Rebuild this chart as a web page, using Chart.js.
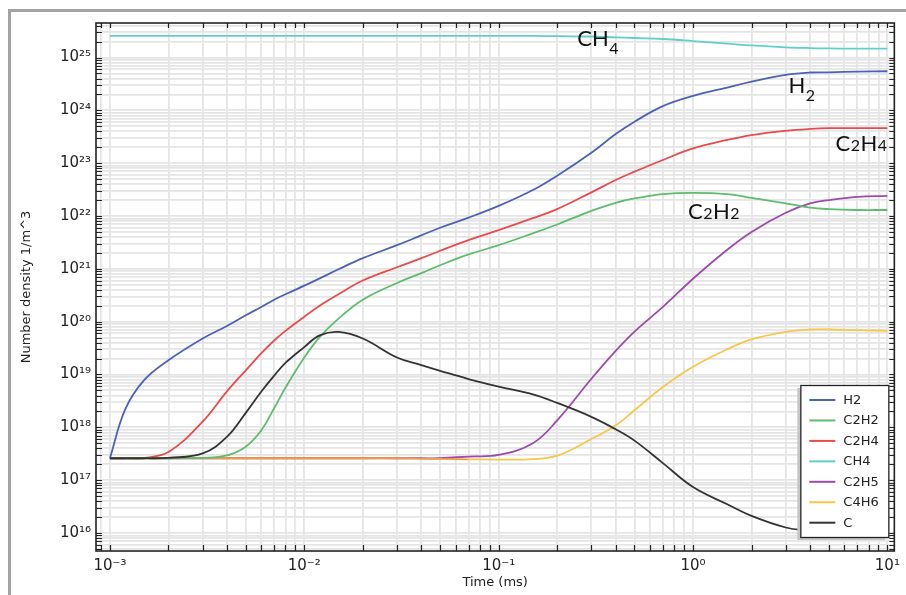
<!DOCTYPE html>
<html>
<head>
<meta charset="utf-8">
<script src="https://cdn.jsdelivr.net/npm/chart.js@4.4.0/dist/chart.umd.min.js"></script>
<style>
  html, body { margin: 0; padding: 0; background: #fff; }
  #wrap { position: relative; width: 906px; height: 595px; overflow: hidden; }
  #frame { position: absolute; left: 8px; top: 9px; width: 920px; height: 620px;
           border-left: 3px solid #a3a3a3; border-top: 3px solid #a3a3a3; pointer-events: none; }
</style>
</head>
<body>
<div id="wrap">
  <canvas id="densityChart" width="906" height="595"></canvas>
  <div id="frame"></div>
</div>
<script>
// Time (ms) at which the curves were read
const times = [0.001, 0.0012, 0.0015, 0.002, 0.003, 0.004, 0.005, 0.006, 0.007, 0.008,
  0.01, 0.012, 0.015, 0.02, 0.03, 0.04, 0.05, 0.07,
  0.1, 0.15, 0.2, 0.3, 0.4, 0.5, 0.7,
  1, 1.5, 2, 3, 4, 5, 7, 10];

// Number density 1/m^3 per species
const h2 = [2.6e17, 2.2e18, 7.8e18, 1.86e19, 4.8e19, 8.3e19, 1.32e20, 1.9e20, 2.6e20, 3.3e20,
  4.8e20, 6.6e20, 9.8e20, 1.59e21, 2.8e21, 4.3e21, 6.0e21, 9.3e21,
  1.55e22, 3.1e22, 5.8e22, 1.58e23, 3.55e23, 6.1e23, 1.2e24,
  1.87e24, 2.7e24, 3.5e24, 4.7e24, 5.2e24, 5.25e24, 5.4e24, 5.5e24];
const c2h2 = [2.6e17, 2.6e17, 2.6e17, 2.6e17, 2.65e17, 2.95e17, 4.3e17, 8.7e17, 2.3e18, 5.6e18,
  2.1e19, 5.1e19, 1.14e20, 2.6e20, 5.4e20, 8.3e20, 1.17e21, 1.87e21,
  2.8e21, 4.7e21, 6.9e21, 1.25e22, 1.78e22, 2.15e22, 2.6e22,
  2.75e22, 2.6e22, 2.2e22, 1.73e22, 1.44e22, 1.35e22, 1.3e22, 1.3e22];
const c2h4 = [2.6e17, 2.6e17, 2.65e17, 3.4e17, 1.28e18, 4.8e18, 1.2e19, 2.5e19, 4.4e19, 6.7e19,
  1.24e20, 2.0e20, 3.3e20, 6.0e20, 1.07e21, 1.59e21, 2.2e21, 3.5e21,
  5.4e21, 9.1e21, 1.35e22, 2.8e22, 4.8e22, 6.9e22, 1.15e23,
  1.9e23, 2.75e23, 3.4e23, 4.1e23, 4.45e23, 4.6e23, 4.6e23, 4.6e23];
const ch4 = [2.56e25, 2.56e25, 2.56e25, 2.56e25, 2.56e25, 2.56e25, 2.56e25, 2.56e25, 2.56e25, 2.56e25,
  2.56e25, 2.56e25, 2.56e25, 2.56e25, 2.56e25, 2.56e25, 2.56e25, 2.56e25,
  2.56e25, 2.56e25, 2.53e25, 2.5e25, 2.41e25, 2.34e25, 2.24e25,
  2.05e25, 1.83e25, 1.69e25, 1.56e25, 1.51e25, 1.49e25, 1.47e25, 1.47e25];
const c2h5 = [2.6e17, 2.6e17, 2.6e17, 2.6e17, 2.6e17, 2.6e17, 2.6e17, 2.6e17, 2.6e17, 2.6e17,
  2.6e17, 2.6e17, 2.6e17, 2.6e17, 2.6e17, 2.6e17, 2.6e17, 2.8e17,
  3.0e17, 5.0e17, 1.35e18, 8.3e18, 2.8e19, 6.5e19, 1.9e20,
  6.5e20, 2.3e21, 5.0e21, 1.15e22, 1.73e22, 2.0e22, 2.3e22, 2.4e22];
const c4h6 = [2.6e17, 2.6e17, 2.6e17, 2.6e17, 2.6e17, 2.6e17, 2.6e17, 2.6e17, 2.6e17, 2.6e17,
  2.6e17, 2.6e17, 2.6e17, 2.6e17, 2.6e17, 2.55e17, 2.52e17, 2.48e17,
  2.45e17, 2.5e17, 2.9e17, 6.0e17, 1.08e18, 2.1e18, 5.8e18,
  1.4e19, 3.0e19, 4.6e19, 6.4e19, 7.1e19, 7.1e19, 6.9e19, 6.7e19];
const carbon = [2.6e17, 2.6e17, 2.6e17, 2.65e17, 3.2e17, 6.6e17, 1.88e18, 4.7e18, 9.5e18, 1.66e19,
  3.3e19, 5.5e19, 6.4e19, 4.8e19, 2.1e19, 1.5e19, 1.17e19, 8.2e18,
  5.9e18, 4.2e18, 2.9e18, 1.58e18, 9.2e17, 5.6e17, 2.1e17,
  7.4e16, 3.5e16, 2.1e16, 1.27e16, 1.1e16, 1.0e16, 9.5e15, 9.0e15];

const seriesNames = ['H2', 'C2H2', 'C2H4', 'CH4', 'C2H5', 'C4H6', 'C'];
const seriesValues = [h2, c2h2, c2h4, ch4, c2h5, c4h6, carbon];

// Tick labels (powers of ten)
const xDecades = [-3, -2, -1, 0, 1];
const xTickLabels = ['10⁻³', '10⁻²', '10⁻¹', '10⁰', '10¹'];
const yDecades = [16, 17, 18, 19, 20, 21, 22, 23, 24, 25];
const yTickLabels = ['10¹⁶', '10¹⁷', '10¹⁸', '10¹⁹', '10²⁰', '10²¹', '10²²', '10²³', '10²⁴', '10²⁵'];

// Styles
const seriesColors = ['#4d62b5', '#5cbd6c', '#e84b4b', '#5fcfc9', '#9c4aab', '#f8c64a', '#333333'];
const drawOrder = [3, 1, 2, 6, 5, 4, 0];
const xRange = [0.000848, 10.86];
const yRange = [4.56e15, 4.5e25];

Chart.defaults.font.family = "'DejaVu Sans', sans-serif";
Chart.defaults.color = '#222';

// ticks 1..9 x 10^n inside the range
function logTicks(min, max) {
  const out = [];
  for (let d = Math.floor(Math.log10(min)); d <= Math.floor(Math.log10(max)); d++) {
    for (let k = 1; k <= 9; k++) {
      const v = k * Math.pow(10, d);
      if (v >= min && v <= max) out.push({ value: v, major: k === 1 });
    }
  }
  return out;
}

function decadeLabel(value, decades, labels) {
  const d = Math.round(Math.log10(value));
  const i = decades.indexOf(d);
  if (i < 0 || Math.abs(value / Math.pow(10, d) - 1) > 1e-6) return '';
  return labels[i];
}

// inward ticks on all four sides + black box
const frameTicks = {
  id: 'frameTicks',
  afterDatasetsDraw(chart) {
    const { ctx, chartArea: a, scales: { x, y } } = chart;
    ctx.save();
    ctx.strokeStyle = '#222';
    ctx.lineWidth = 1.2;
    ctx.beginPath();
    x.ticks.forEach(t => {
      const px = Math.round(x.getPixelForValue(t.value)) + 0.5;
      ctx.moveTo(px, a.bottom); ctx.lineTo(px, a.bottom - 6);
      ctx.moveTo(px, a.top); ctx.lineTo(px, a.top + 5);
    });
    y.ticks.forEach(t => {
      const py = Math.round(y.getPixelForValue(t.value)) + 0.5;
      ctx.moveTo(a.left, py); ctx.lineTo(a.left + 6, py);
      ctx.moveTo(a.right, py); ctx.lineTo(a.right - 5, py);
    });
    ctx.stroke();
    ctx.lineWidth = 1.6;
    ctx.strokeRect(a.left, a.top, a.right - a.left, a.bottom - a.top);
    ctx.restore();
  }
};

// species names written next to the curves (anchored in data units)
const curveNotes = [
  { parts: [['CH', 0], ['4', 1]], t: 0.254, n: 1.65e25 },
  { parts: [['H', 0], ['2', 1]], t: 3.10, n: 2.13e24 },
  { parts: [['C', 0], ['2', 2], ['H', 0], ['4', 2]], t: 5.41, n: 1.73e23 },
  { parts: [['C', 0], ['2', 2], ['H', 0], ['2', 2]], t: 0.943, n: 8.9e21 }
];
const notesPlugin = {
  id: 'notes',
  afterDraw(chart) {
    const { ctx, scales: { x, y } } = chart;
    ctx.save();
    ctx.fillStyle = '#111';
    ctx.textBaseline = 'alphabetic';
    curveNotes.forEach(note => {
      let px = x.getPixelForValue(note.t);
      const py = y.getPixelForValue(note.n);
      note.parts.forEach(([txt, kind]) => {
        if (kind === 0) ctx.font = "22px Lato, 'Open Sans', sans-serif";
        else ctx.font = "16px Lato, 'Open Sans', sans-serif";
        const dy = kind === 1 ? 8 : (kind === 2 ? 0.7 : 0);
        ctx.fillText(txt, px, py + dy);
        px += ctx.measureText(txt).width + 0.5;
      });
    });
    ctx.restore();
  }
};

// boxed legend in the lower right corner of the plot
const boxLegend = {
  id: 'boxLegend',
  afterDraw(chart) {
    const { ctx, chartArea: a } = chart;
    const w = 88, h = 152, rowH = 20.45;
    const left = a.right - 6 - w, top = a.bottom - 14 - h;
    ctx.save();
    ctx.fillStyle = '#c6c6c6';
    ctx.fillRect(left - 3, top + 3, w, h);
    ctx.fillStyle = '#fff';
    ctx.fillRect(left, top, w, h);
    ctx.strokeStyle = '#222';
    ctx.lineWidth = 1.3;
    ctx.strokeRect(left + 0.5, top + 0.5, w, h);
    ctx.font = "13px 'DejaVu Sans', sans-serif";
    ctx.textBaseline = 'middle';
    chart.data.datasets.forEach((ds, i) => {
      const cy = top + 15 + i * rowH;
      ctx.strokeStyle = ds.borderColor;
      ctx.lineWidth = 2;
      ctx.beginPath();
      ctx.moveTo(left + 9, cy);
      ctx.lineTo(left + 35, cy);
      ctx.stroke();
      ctx.fillStyle = '#222';
      ctx.fillText(ds.label, left + 43, cy + 0.5);
    });
    ctx.restore();
  }
};

const datasets = seriesNames.map((name, i) => ({
  label: name,
  data: times.map((t, j) => ({ x: t, y: seriesValues[i][j] })),
  borderColor: seriesColors[i],
  backgroundColor: seriesColors[i],
  borderWidth: 1.8,
  pointRadius: 0,
  tension: 0.4,
  order: drawOrder[i]
}));
// the flat start of C4H6 shows orange in the original
datasets[5].segment = {
  borderColor: c => (c.p1.parsed.x <= 0.07 ? '#f19a3e' : seriesColors[5])
};

new Chart(document.getElementById('densityChart').getContext('2d'), {
  type: 'line',
  data: { datasets: datasets },
  options: {
    responsive: false,
    animation: false,
    layout: { padding: { top: 23, right: 9, left: 0, bottom: 0 } },
    plugins: { legend: { display: false }, tooltip: { enabled: false } },
    scales: {
      x: {
        type: 'logarithmic',
        min: xRange[0],
        max: xRange[1],
        afterBuildTicks: axis => { axis.ticks = logTicks(xRange[0], xRange[1]); },
        afterFit: axis => { axis.height = 44; },
        grid: { color: '#e5e5e5', lineWidth: 1.8, drawTicks: false },
        border: { display: false },
        ticks: {
          autoSkip: false, maxRotation: 0, padding: 6,
          font: { size: 15 },
          callback: v => decadeLabel(v, xDecades, xTickLabels)
        },
        title: { display: true, text: 'Time (ms)', font: { size: 13 }, padding: { top: 0, bottom: 5 } }
      },
      y: {
        type: 'logarithmic',
        min: yRange[0],
        max: yRange[1],
        afterBuildTicks: axis => { axis.ticks = logTicks(yRange[0], yRange[1]); },
        afterFit: axis => { axis.width = 96; },
        grid: { color: '#e5e5e5', lineWidth: 1.8, drawTicks: false },
        border: { display: false },
        ticks: {
          autoSkip: false, padding: 5,
          font: { size: 15 },
          callback: v => decadeLabel(v, yDecades, yTickLabels)
        },
        title: { display: true, text: 'Number density 1/m^3', font: { size: 13 }, padding: { top: 19, bottom: 0 } }
      }
    }
  },
  plugins: [frameTicks, notesPlugin, boxLegend]
});
</script>
</body>
</html>
